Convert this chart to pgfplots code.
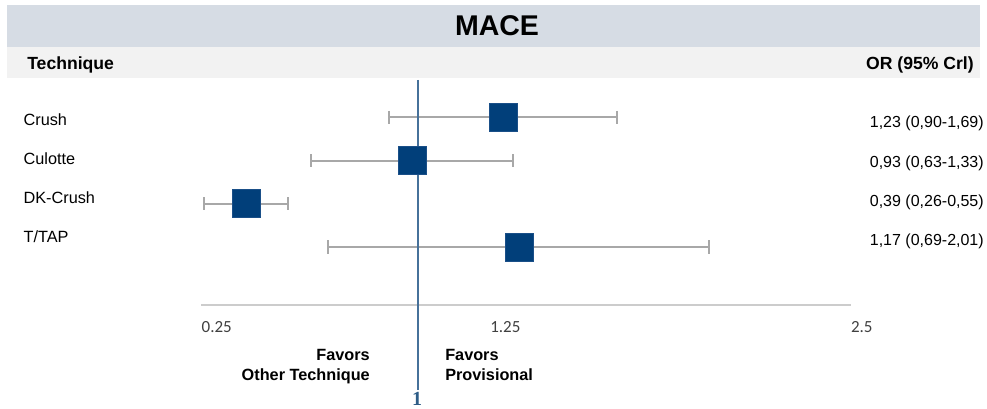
\documentclass[border=0pt]{standalone}
\usepackage{pgfplots}
\pgfplotsset{compat=1.18}
\usepackage{fontspec}
\setmainfont{Liberation Sans}
\newfontfamily\carlito{Carlito}
\newfontfamily\serifb{Liberation Serif}
\definecolor{bandA}{HTML}{D6DCE4}
\definecolor{bandB}{HTML}{F2F2F2}
\definecolor{cigray}{HTML}{A8A8A8}
\definecolor{axisgray}{HTML}{CCCCCC}
\definecolor{refblue}{HTML}{46719A}
\definecolor{oneblue}{HTML}{2E5D87}
\definecolor{navy}{HTML}{013F7A}
\definecolor{navyedge}{HTML}{1A4F88}
\definecolor{tickgray}{HTML}{404040}
\begin{document}
\begin{tikzpicture}
\begin{axis}[
  scale only axis, width=740.25pt, height=306.75pt,
  xmin=-0.44802, xmax=2.97193, ymin=-409, ymax=0,
  axis line style={draw=none}, tick style={draw=none}, major tick length=0pt,
  axis background/.style={fill=white},
  clip=false,
  xtick={0.25,1.25,2.5}, xticklabels={0.25,1.25,2.5},
  xticklabel style={font=\carlito\fontsize{12.75pt}{14pt}\selectfont, text=tickgray, anchor=base west, inner sep=0pt, yshift=57pt},
  ytick={-243,-204,-165,-126}, yticklabels={T/TAP,DK-Crush,Culotte,Crush},
  yticklabel style={font=\fontsize{12.2pt}{14pt}\selectfont, anchor=base west, inner sep=0pt, xshift=17.5pt, text=black},
]
% x axis line
\addplot[axisgray, line width=1.5pt] coordinates {(0.25,-305) (2.5,-305)};
% 95% CrI
\addplot[cigray, line width=1.5pt, mark=|, mark options={solid, mark size=4.9pt}] coordinates {(0.90,-117.4) (1.69,-117.4)};
\addplot[cigray, line width=1.5pt, mark=|, mark options={solid, mark size=4.9pt}] coordinates {(0.63,-160.8) (1.33,-160.8)};
\addplot[cigray, line width=1.5pt, mark=|, mark options={solid, mark size=4.9pt}] coordinates {(0.26,-203.7) (0.55,-203.7)};
\addplot[cigray, line width=1.5pt, mark=|, mark options={solid, mark size=4.9pt}] coordinates {(0.69,-247) (2.01,-247)};
% reference line at OR = 1
\addplot[refblue, line width=1.5pt] coordinates {(1,-80) (1,-390)};
% squares (positions as drawn in the picture)
\addplot[only marks, mark=square*, mark size=10.5pt, mark options={fill=navy, draw=navyedge, line width=0.5pt}] coordinates {(1.295,-117.4) (0.981,-160.8) (0.407,-203.7) (1.351,-247)};
\end{axis}
\begin{scope}[shift={(current axis.north west)}, x=0.75pt, y=-0.75pt]
\fill[bandA] (7,5) rectangle (980,47);
\fill[bandB] (7,47) rectangle (980,78);
\node[anchor=base, inner sep=0pt, font=\bfseries\fontsize{21.4pt}{24pt}\selectfont] at (497,36) {MACE};
\node[anchor=base west, inner sep=0pt, font=\bfseries\fontsize{13.2pt}{15pt}\selectfont] at (27,69.5) {Technique};
\node[anchor=base east, inner sep=0pt, font=\bfseries\fontsize{13.2pt}{15pt}\selectfont] at (974,69.5) {OR (95\% Crl)};
\begin{scope}[every node/.style={anchor=base east, inner sep=0pt, font=\fontsize{12pt}{14pt}\selectfont}]
\node at (984,128) {1,23 (0,90-1,69)};
\node at (984,168) {0,93 (0,63-1,33)};
\node at (984,207) {0,39 (0,26-0,55)};
\node at (984,246) {1,17 (0,69-2,01)};
\end{scope}
\begin{scope}[every node/.style={inner sep=0pt, font=\bfseries\fontsize{12.2pt}{14pt}\selectfont}]
\node[anchor=base east] at (370,361) {Favors};
\node[anchor=base east] at (370,381) {Other Technique};
\node[anchor=base west] at (445,361) {Favors};
\node[anchor=base west] at (445,381) {Provisional};
\end{scope}
\node[anchor=base, inner sep=0pt, text=oneblue, font=\serifb\bfseries\fontsize{15pt}{17pt}\selectfont] at (417,406) {1};
\end{scope}
\pgfresetboundingbox
\useasboundingbox (current axis.south west) rectangle (current axis.north east);
\end{tikzpicture}
\end{document}
